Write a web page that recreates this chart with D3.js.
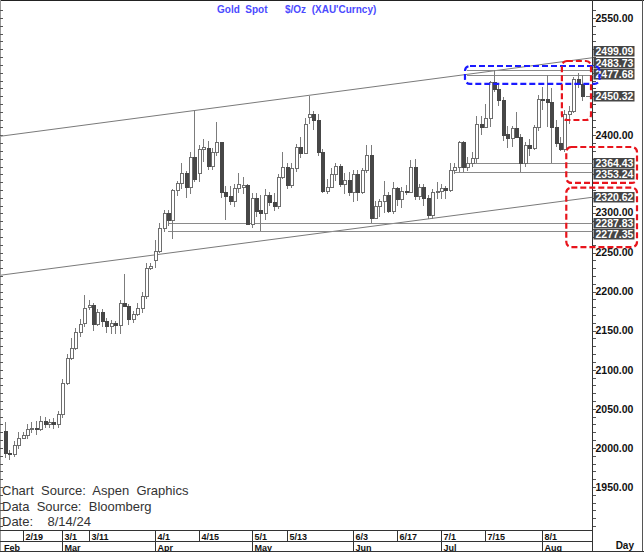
<!DOCTYPE html>
<html><head><meta charset="utf-8">
<script src="https://cdn.jsdelivr.net/npm/d3@7"></script>
<style>
body{margin:0;background:#fff}
svg{display:block}
text{font-family:"Liberation Sans",Arial,sans-serif}
</style>
</head><body>
<svg id="chart" width="644" height="552"></svg>
<script>
// ---------------- DATA ----------------
const dates = ["2/13","2/14","2/15","2/16","2/19","2/20","2/21","2/22","2/23","2/26","2/27","2/28","2/29",
"3/1","3/4","3/5","3/6","3/7","3/8","3/11","3/12","3/13","3/14","3/15","3/18","3/19","3/20","3/21","3/22","3/25","3/26","3/27","3/28","3/29",
"4/1","4/2","4/3","4/4","4/5","4/8","4/9","4/10","4/11","4/12","4/15","4/16","4/17","4/18","4/19","4/22","4/23","4/24","4/25","4/26","4/29","4/30",
"5/1","5/2","5/3","5/6","5/7","5/8","5/9","5/10","5/13","5/14","5/15","5/16","5/17","5/20","5/21","5/22","5/23","5/24","5/27","5/28","5/29","5/30","5/31",
"6/3","6/4","6/5","6/6","6/7","6/10","6/11","6/12","6/13","6/14","6/17","6/18","6/19","6/20","6/21","6/24","6/25","6/26","6/27","6/28",
"7/1","7/2","7/3","7/4","7/5","7/8","7/9","7/10","7/11","7/12","7/15","7/16","7/17","7/18","7/19","7/22","7/23","7/24","7/25","7/26","7/29","7/30","7/31",
"8/1","8/2","8/5","8/6","8/7","8/8","8/9","8/12","8/13","8/14"];

const open = [2022,1994,1992,2004,2013,2017,2024,2026,2024,2035,2031,2033,2030,
2044,2083,2115,2128,2148,2160,2180,2183,2158,2174,2162,2156,2160,2157,2186,2181,2165,2171,2179,2194,2230,
2240,2252,2281,2300,2291,2330,2339,2352,2334,2372,2352,2383,2384,2361,2379,2391,2327,2322,2316,2332,2334,2336,
2286,2320,2304,2301,2323,2314,2309,2346,2360,2336,2358,2385,2377,2423,2427,2420,2379,2329,2334,2350,2361,2338,2343,
2327,2350,2327,2355,2375,2294,2310,2316,2324,2303,2333,2319,2329,2328,2360,2322,2334,2320,2298,2327,
2329,2332,2330,2356,2359,2391,2359,2364,2371,2415,2411,2422,2468,2459,2445,2402,2396,2409,2398,2364,2387,2384,2410,
2447,2446,2443,2410,2390,2383,2427,2431,2472,2465];

const high = [2033,1997,2009,2021,2021,2031,2033,2035,2041,2040,2037,2038,2047,
2088,2120,2141,2153,2165,2195,2189,2185,2178,2178,2166,2164,2163,2189,2222,2184,2175,2185,2200,2236,2236,
2266,2288,2305,2305,2331,2342,2365,2354,2378,2431,2388,2395,2393,2384,2417,2392,2335,2335,2338,2352,2347,2338,
2326,2326,2324,2331,2327,2326,2351,2378,2364,2365,2389,2398,2422,2450,2431,2427,2383,2344,2358,2364,2363,2352,2353,
2355,2355,2358,2388,2387,2316,2318,2342,2327,2340,2334,2334,2336,2368,2369,2337,2337,2324,2331,2340,
2338,2335,2365,2364,2393,2393,2372,2378,2424,2424,2440,2469,2483.73,2467,2449,2412,2412,2430,2402,2391,2395,2413,2451,
2462,2477.68,2461,2419,2398,2432,2437,2474,2480,2477];

const low = [1987,1985,1988,1998,2011,2012,2019,2017,2022,2026,2025,2024,2025,
2038,2080,2113,2125,2142,2155,2176,2150,2156,2155,2147,2146,2146,2146,2180,2157,2160,2169,2173,2191,2228,
2230,2249,2276,2284,2267,2322,2331,2320,2325,2340,2340,2366,2355,2355,2373,2320,2291,2311,2308,2326,2325,2285,
2281,2295,2277.35,2291,2309,2303,2306,2344,2331,2333,2353,2371,2376,2414,2407,2373,2326,2325,2333,2341,2334,2325,2322,
2315,2316,2325,2352,2287.83,2293,2296,2300,2300,2299,2310,2307,2324,2326,2317,2317,2310,2293,2293,2319,
2319,2319,2327,2350,2353,2353,2354,2359,2365,2400,2409,2411,2455,2437,2393,2384,2385,2397,2353.24,2360,2374,2381,2406,
2432,2410,2364.43,2385,2380,2378,2415,2428,2461,2444];

const close = [1993,1992,2004,2013,2017,2024,2026,2024,2035,2031,2033,2030,2044,
2083,2115,2128,2148,2159,2179,2183,2158,2174,2162,2156,2160,2157,2186,2181,2165,2171,2179,2194,2230,2233,
2252,2281,2300,2291,2330,2339,2352,2334,2372,2344,2383,2385,2361,2379,2392,2327,2322,2316,2332,2337,2336,2286,
2320,2303,2301,2323,2314,2309,2346,2360,2336,2358,2385,2377,2415,2427,2420,2379,2329,2334,2350,2361,2338,2343,2327,
2350,2327,2355,2375,2294,2310,2316,2324,2303,2333,2319,2329,2328,2360,2322,2334,2320,2298,2327,2329,
2332,2330,2356,2360,2392,2359,2364,2371,2415,2411,2422,2468,2459,2445,2400,2396,2409,2398,2364,2387,2384,2410,2447,
2446,2443,2410,2390,2383,2427,2431,2472,2465,2450.32];

const priceTicks = [1950,2000,2050,2100,2150,2200,2250,2300,2350,2400,2450,2500,2550];
const markerValues = [2499.09,2483.73,2477.68,2450.32,2364.43,2353.24,2320.62,2287.83,2277.35];
const dateTicks = ["2/19","3/1","3/11","4/1","4/15","5/1","5/13","6/3","6/17","7/1","7/15","8/1"];
const monthLabels = ["Feb","Mar","Apr","May","Jun","Jul","Aug"];
const monthStarts = [null,"3/1","4/1","5/1","6/3","7/1","8/1"];
const hLineValues = [2483.73,2477.68,2364.43,2353.24,2287.83,2277.35];
const hLineFrom   = ["7/9","7/9","7/9","7/4","4/4","4/4"];
const trendUpper = [["2/13",2399.5],["8/14",2497.4]];
const trendLower = [["2/13",2221.7],["8/14",2318.9]];
const titleParts = ["Gold  Spot","$/Oz  (XAU'Curncy)"];
const sourceLines = ["Chart  Source:  Aspen  Graphics","Data  Source:  Bloomberg","Date:    8/14/24"];
// highlight boxes: date range (or axis), price range
const redBoxes = [
  {from:"8/8", top:2495, bottom:2419.5, axis:false},
  {from:"8/9", top:2385, bottom:2339, axis:true},
  {from:"8/9", top:2333, bottom:2257, axis:true}
];
const blueBox = {from:"7/9", top:2488.6, bottom:2465.6};

// ---------------- LAYOUT ----------------
const W = 644, H = 552;
const axisX = 592.5, plotTop = 2, plotBottom = 530.5;
const svg = d3.select("#chart");
svg.append("rect").attr("width",W).attr("height",H).attr("fill","#fff");

const x = d3.scalePoint().domain(dates).range([5, 582]);
const y = d3.scaleLinear().domain([1950, 2550]).range([487, 18]);

const g = svg.append("g").attr("shape-rendering","crispEdges");

svg.append("clipPath").attr("id","plotclip").append("rect")
  .attr("x",1).attr("y",plotTop).attr("width",axisX-1).attr("height",plotBottom-plotTop);
const plot = svg.append("g").attr("clip-path","url(#plotclip)");

// trend lines
function trend(pts){
  const x1=x(pts[0][0]), y1=y(pts[0][1]), x2=x(pts[1][0]), y2=y(pts[1][1]);
  const s=(y2-y1)/(x2-x1);
  const xa=1, xb=axisX;
  return [[xa, y1+(xa-x1)*s],[xb, y1+(xb-x1)*s]];
}
[trendUpper, trendLower].forEach(t=>{
  const p=trend(t);
  plot.append("line").attr("x1",p[0][0]).attr("y1",p[0][1]).attr("x2",p[1][0]).attr("y2",p[1][1])
    .attr("stroke","#7a7a7a").attr("stroke-width",1);
});

// horizontal annotation lines
hLineValues.forEach((v,i)=>{
  const yy=Math.round(y(v))+0.5;
  plot.append("line").attr("x1",x(hLineFrom[i])).attr("x2",axisX).attr("y1",yy).attr("y2",yy)
    .attr("stroke","#8a8a8a").attr("stroke-width",1).attr("shape-rendering","crispEdges");
});

// candles
const candles = plot.append("g").attr("shape-rendering","crispEdges");
dates.forEach((d,i)=>{
  const cx = Math.round(x(d))+0.5;
  const up = close[i] >= open[i];
  candles.append("line").attr("x1",cx).attr("x2",cx)
    .attr("y1",y(high[i])).attr("y2",y(low[i]))
    .attr("stroke","#7c7c7c").attr("stroke-width",1);
  const yt = Math.round(y(Math.max(open[i],close[i])))+0.5;
  const yb = Math.round(y(Math.min(open[i],close[i])))+0.5;
  candles.append("rect").attr("x",cx-1.5).attr("y",yt)
    .attr("width",3).attr("height",Math.max(1,yb-yt))
    .attr("fill", up ? "#fff" : "#474747")
    .attr("stroke", up ? "#6e6e6e" : "#474747").attr("stroke-width",1);
});

// last price marker
const lastY = y(close[close.length-1]);
plot.append("line").attr("x1",586).attr("x2",590).attr("y1",Math.round(lastY)+0.5).attr("y2",Math.round(lastY)+0.5)
  .attr("stroke","#777").attr("shape-rendering","crispEdges");

// frame / axes lines
g.append("line").attr("x1",0).attr("x2",W).attr("y1",0.5).attr("y2",0.5).attr("stroke","#222").attr("stroke-width",1.5);
g.append("line").attr("x1",axisX).attr("x2",axisX).attr("y1",0).attr("y2",H).attr("stroke","#333");
g.append("line").attr("x1",0.5).attr("x2",0.5).attr("y1",0).attr("y2",H).attr("stroke","#999");
g.append("line").attr("x1",W-1.5).attr("x2",W-1.5).attr("y1",0).attr("y2",H).attr("stroke","#555");
g.append("line").attr("x1",0).attr("x2",W).attr("y1",H-0.5).attr("y2",H-0.5).attr("stroke","#333");
g.append("line").attr("x1",0).attr("x2",axisX).attr("y1",plotBottom).attr("y2",plotBottom).attr("stroke","#333");
g.append("line").attr("x1",0).attr("x2",axisX).attr("y1",541.5).attr("y2",541.5).attr("stroke","#333");

// minor ticks every 10 on both sides
const minor = d3.range(1900, 2561, 10);
minor.forEach(v=>{
  const yy=Math.round(y(v))+0.5;
  if (yy<plotTop || yy>plotBottom) return;
  g.append("line").attr("x1",0).attr("x2",3).attr("y1",yy).attr("y2",yy).attr("stroke","#555");
  g.append("line").attr("x1",axisX).attr("x2",axisX+3).attr("y1",yy).attr("y2",yy).attr("stroke","#555");
});

// price labels with marker boxes (spread away from the last price)
let items = markerValues.map(v=>({v, y:y(v)})).sort((a,b)=>a.y-b.y);
const gap = 11.5;
const above = items.filter(d=>d.y < lastY-0.5), below = items.filter(d=>d.y >= lastY-0.5);
for (let i=above.length-2;i>=0;i--) if (above[i+1].y-above[i].y<gap) above[i].y = above[i+1].y-gap;
for (let i=1;i<below.length;i++) if (below[i].y-below[i-1].y<gap) below[i].y = below[i-1].y+gap;

const labG = svg.append("g");
priceTicks.forEach(v=>{
  let yy=y(v);
  if (items.some(m=>Math.abs(m.y-yy)<6.6)) return;
  // nudge plain labels away from nearby boxes
  items.forEach(m=>{
    const d = yy - m.y;
    if (Math.abs(d) < 11.2) yy = m.y + (d<0 ? -11.2 : 11.2);
  });
  labG.append("text").attr("x",595.5).attr("y",yy).attr("dy","0.36em")
    .attr("font-size","10.5px").attr("font-weight","bold").attr("fill","#111")
    .text(d3.format(".2f")(v));
});
items.forEach(m=>{
  labG.append("rect").attr("x",593.5).attr("y",Math.round(m.y-5.2)).attr("width",41).attr("height",10.5)
    .attr("fill","#454545");
  labG.append("text").attr("x",595.5).attr("y",m.y).attr("dy","0.36em")
    .attr("font-size","10.5px").attr("font-weight","bold").attr("fill","#fff")
    .text(d3.format(".2f")(m.v));
});

// date axis
const dg = svg.append("g");
dateTicks.forEach(d=>{
  const xx=Math.round(x(d))+0.5;
  dg.append("line").attr("x1",xx).attr("x2",xx).attr("y1",plotBottom).attr("y2",541.5).attr("stroke","#333").attr("shape-rendering","crispEdges");
  dg.append("text").attr("x",xx+2).attr("y",539.5).attr("font-size","9px").attr("font-weight","bold").attr("fill","#111").text(d);
});
monthLabels.forEach((m,i)=>{
  const xx = monthStarts[i] ? Math.round(x(monthStarts[i]))+0.5 : 2;
  if (monthStarts[i]) dg.append("line").attr("x1",xx).attr("x2",xx).attr("y1",541.5).attr("y2",H).attr("stroke","#333").attr("shape-rendering","crispEdges");
  dg.append("text").attr("x",xx+2).attr("y",550.5).attr("font-size","9px").attr("font-weight","bold").attr("fill","#111").text(m);
});
dg.append("text").attr("x",634).attr("y",548.5).attr("text-anchor","end").attr("font-size","10px").attr("font-weight","bold").attr("fill","#111").text("Day");

// title
const tg = svg.append("g").attr("font-size","10px").attr("font-weight","bold").attr("fill","#4b4bff");
tg.append("text").attr("x",217).attr("y",13).style("white-space","pre").text(titleParts[0]);
tg.append("text").attr("x",285).attr("y",13).style("white-space","pre").text(titleParts[1]);

// source lines
sourceLines.forEach((s,i)=>{
  svg.append("text").attr("x",2).attr("y",495+i*15.5).attr("font-size","13px").attr("fill","#333")
    .style("white-space","pre").text(s);
});

// highlight boxes
function hbox(b, color, rightX){
  const left = x(b.from) - 2.5;
  const top = y(b.top), bot = y(b.bottom);
  svg.append("rect").attr("x",left).attr("y",top).attr("width",rightX-left).attr("height",bot-top)
    .attr("rx",5).attr("ry",5).attr("fill","none").attr("stroke",color).attr("stroke-width",2.2)
    .attr("stroke-dasharray","6,3");
}
hbox(blueBox, "#1a1aff", axisX+7);
redBoxes.forEach(b=> hbox(b, "#e8141c", b.axis ? axisX+44.5 : axisX-1.5));
</script>
</body></html>
